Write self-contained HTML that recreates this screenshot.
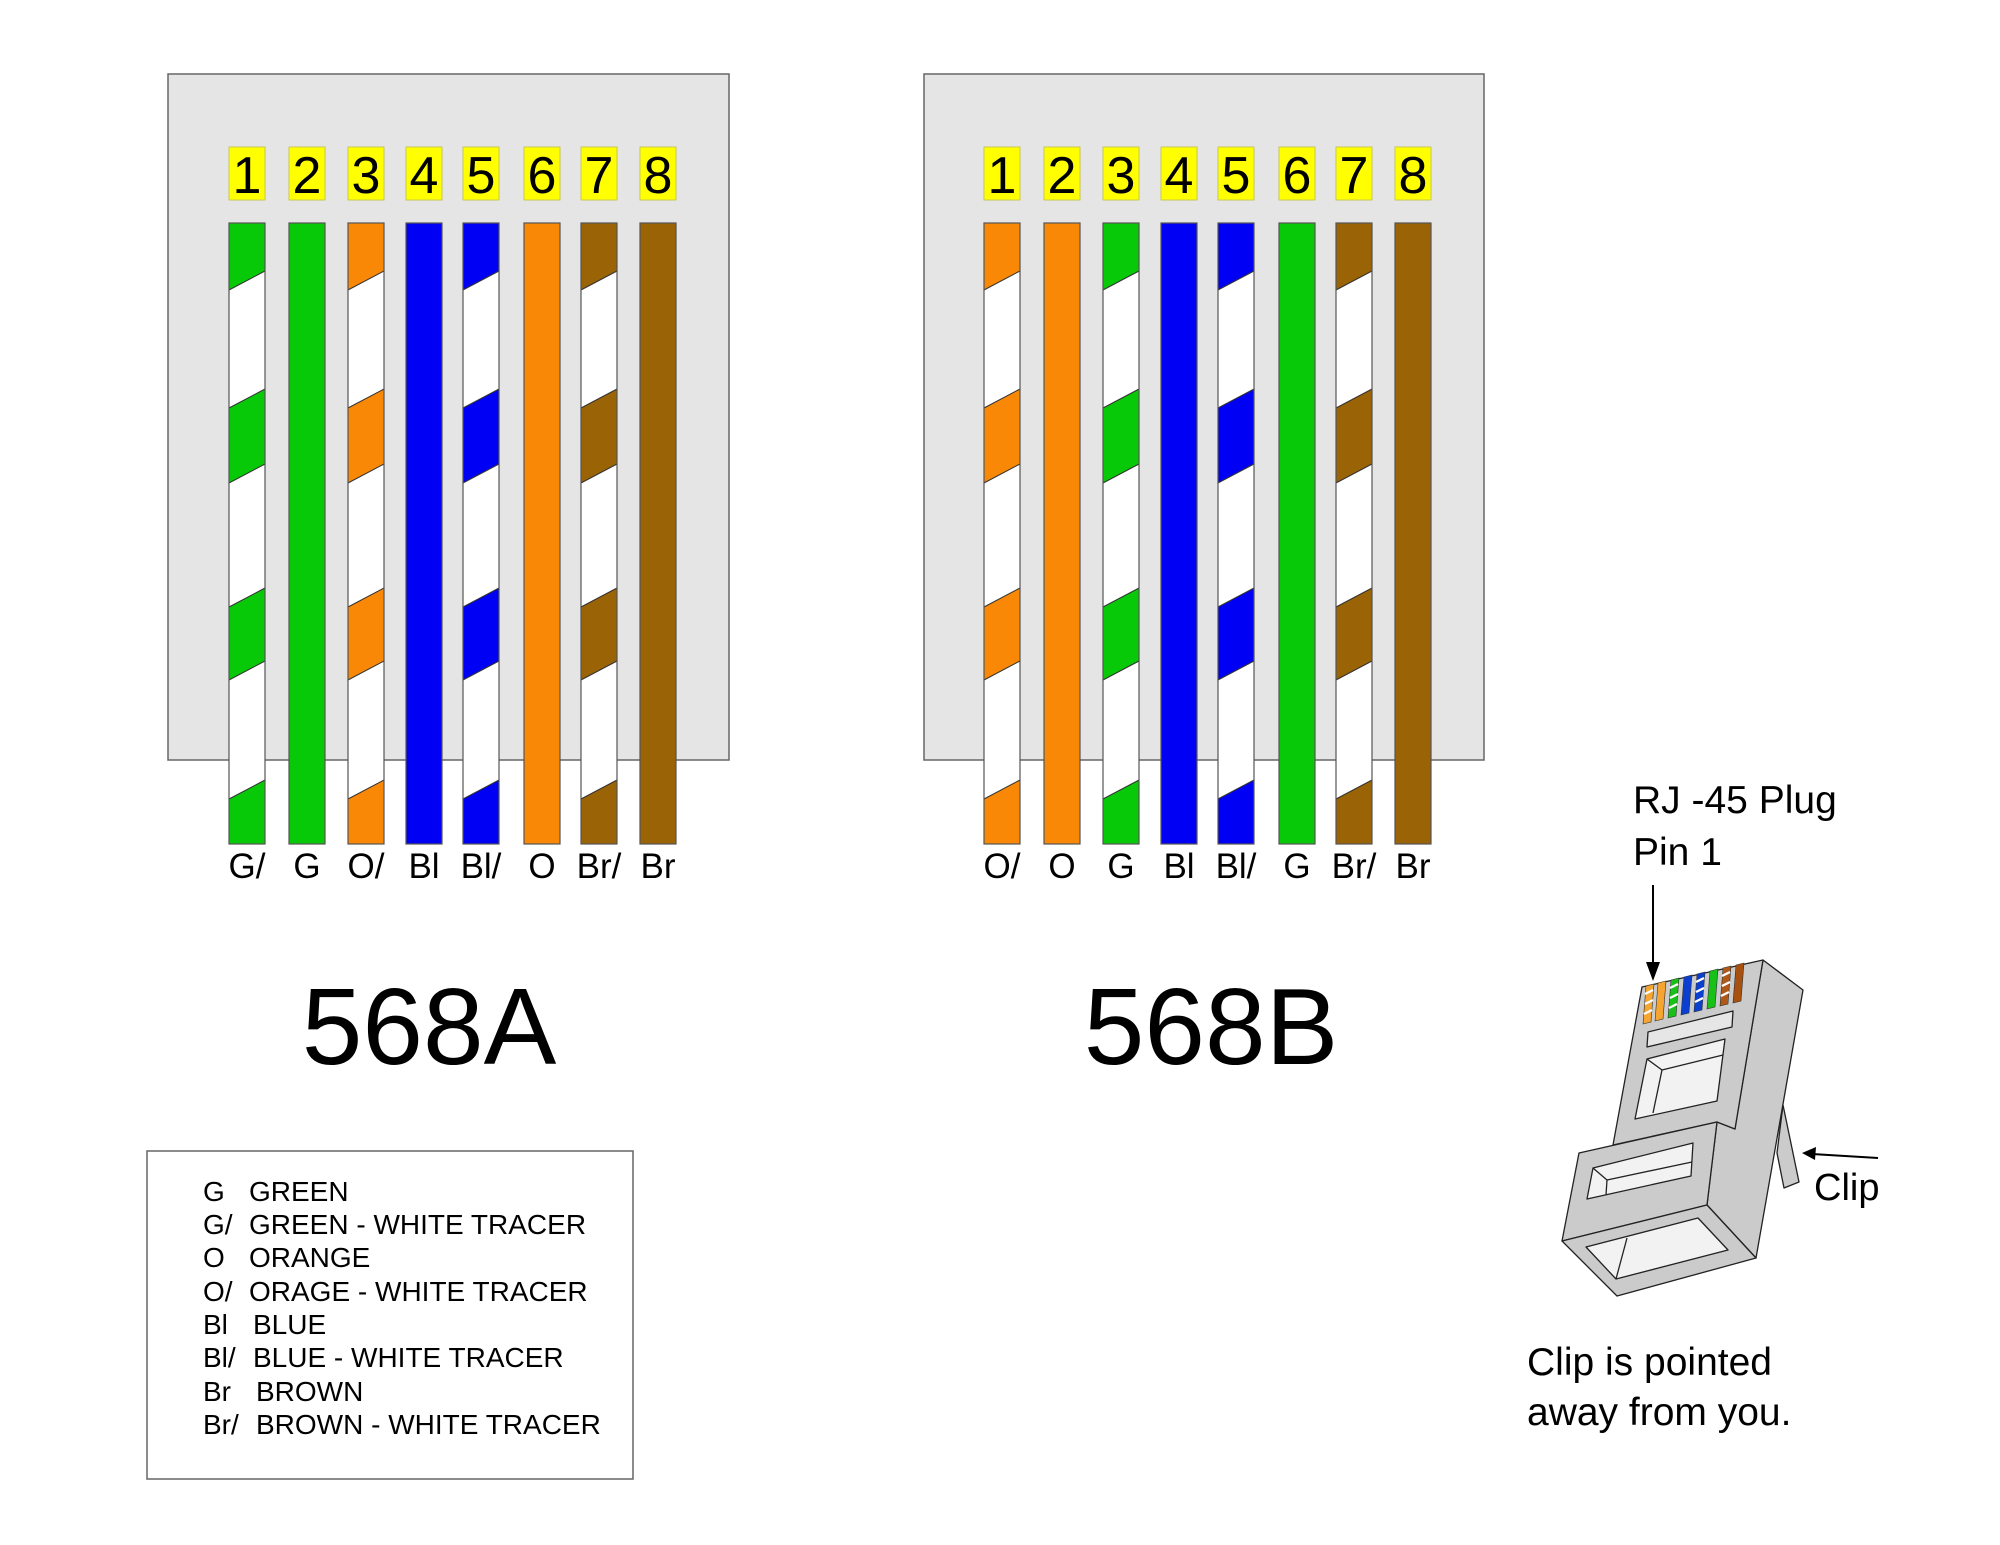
<!DOCTYPE html>
<html><head><meta charset="utf-8"><style>
html,body{margin:0;padding:0;background:#fff;}
svg{display:block;}
text{font-family:"Liberation Sans",Arial,sans-serif;fill:#000;}
</style></head><body>
<svg width="2000" height="1545" viewBox="0 0 2000 1545" xmlns="http://www.w3.org/2000/svg">

<rect x="168" y="74" width="561" height="686" fill="#e5e5e5" stroke="#666" stroke-width="1.5"/>
<rect x="924" y="74" width="560" height="686" fill="#e5e5e5" stroke="#666" stroke-width="1.5"/>

<g id="wiresA"></g>
<g id="wiresB"></g>

<rect x="147" y="1151" width="486" height="328" fill="#fff" stroke="#666" stroke-width="1.5"/>
<g font-size="28">
<text x="203" y="1201">G</text><text x="249" y="1201">GREEN</text>
<text x="203" y="1234">G/</text><text x="249" y="1234">GREEN - WHITE TRACER</text>
<text x="203" y="1267">O</text><text x="249" y="1267">ORANGE</text>
<text x="203" y="1301">O/</text><text x="249" y="1301">ORAGE - WHITE TRACER</text>
<text x="203" y="1334">Bl</text><text x="253" y="1334">BLUE</text>
<text x="203" y="1367">Bl/</text><text x="253" y="1367">BLUE - WHITE TRACER</text>
<text x="203" y="1401">Br</text><text x="256" y="1401">BROWN</text>
<text x="203" y="1434">Br/</text><text x="256" y="1434">BROWN - WHITE TRACER</text>
</g>

<text x="429" y="1064" font-size="109" text-anchor="middle">568A</text>
<text x="1211" y="1064" font-size="109" text-anchor="middle">568B</text>

<text x="1633" y="813" font-size="39">RJ -45 Plug</text>
<text x="1633" y="865" font-size="39">Pin 1</text>
<text x="1814" y="1200" font-size="38">Clip</text>
<text x="1527" y="1375" font-size="39">Clip is pointed</text>
<text x="1527" y="1425" font-size="39">away from you.</text>

<g stroke="#222" stroke-width="1.3" stroke-linejoin="round">
  <polygon points="1763,960 1803,990 1756,1258 1707,1205 1717,1122 1735,1129" fill="#cbcbcb"/>
  <polygon points="1783,1105 1799,1182 1784,1188 1777,1153" fill="#cbcbcb"/>
  <polygon points="1642,987 1763,960 1735,1129 1717,1122 1613,1145" fill="#cbcbcb"/>
  <polygon points="1648,1032 1733,1011 1732,1027 1647,1047" fill="#e6e6e6"/>
  <polygon points="1647,1059 1725,1039 1717,1101 1635,1119" fill="#f2f2f2"/>
  <polyline points="1647,1059 1662,1070 1723,1055" fill="none"/>
  <line x1="1662" y1="1070" x2="1653" y2="1113"/>
  <polygon points="1579,1153 1717,1122 1707,1205 1562,1241" fill="#cbcbcb"/>
  <polygon points="1593,1168 1693,1143 1691,1176 1587,1199" fill="#f2f2f2"/>
  <polyline points="1593,1168 1607,1180 1692,1162" fill="none"/>
  <line x1="1607" y1="1180" x2="1606" y2="1195"/>
  <polygon points="1562,1241 1707,1205 1756,1258 1617,1296" fill="#cbcbcb"/>
  <polygon points="1586,1247 1698,1218 1728,1250 1616,1279" fill="#f2f2f2"/>
  <line x1="1627" y1="1238" x2="1616" y2="1279"/>
</g>
<g stroke="#333" stroke-width="0.6">
  <polygon points="1646,986 1654,984 1651,1022 1643,1024" fill="#f5a530"/>
  <polygon points="1658,983 1666,981 1663,1019 1655,1021" fill="#f5a530"/>
  <polygon points="1671,980 1679,978 1676,1016 1668,1018" fill="#18c018"/>
  <polygon points="1684,977 1692,975 1689,1013 1681,1015" fill="#0a3fd0"/>
  <polygon points="1697,974 1705,972 1702,1010 1694,1012" fill="#0a3fd0"/>
  <polygon points="1710,971 1718,969 1715,1007 1707,1009" fill="#18c018"/>
  <polygon points="1723,968 1731,966 1728,1004 1720,1006" fill="#b05818"/>
  <polygon points="1736,965 1744,963 1741,1001 1733,1003" fill="#a85010"/>
</g>
<g stroke="#fff" stroke-width="2.2">
  <line x1="1645" y1="994" x2="1653" y2="990"/><line x1="1645" y1="1004" x2="1653" y2="1000"/><line x1="1644" y1="1014" x2="1652" y2="1010"/>
  <line x1="1670" y1="988" x2="1678" y2="984"/><line x1="1670" y1="998" x2="1678" y2="994"/><line x1="1669" y1="1008" x2="1677" y2="1004"/>
  <line x1="1696" y1="982" x2="1704" y2="978"/><line x1="1696" y1="992" x2="1704" y2="988"/><line x1="1695" y1="1002" x2="1703" y2="998"/>
  <line x1="1722" y1="976" x2="1730" y2="972"/><line x1="1722" y1="986" x2="1730" y2="982"/><line x1="1721" y1="996" x2="1729" y2="992"/>
</g>
<line x1="1653" y1="885" x2="1653" y2="965" stroke="#000" stroke-width="2"/>
<polygon points="1646,962 1660,962 1653,981" fill="#000"/>
<line x1="1878" y1="1158" x2="1812" y2="1154" stroke="#000" stroke-width="2"/>
<polygon points="1802,1153 1816,1147 1815,1160" fill="#000"/>

<script>
(function(){
var ns="http://www.w3.org/2000/svg";
var C={G:"#08c908",O:"#f88806",B:"#0000f5",R:"#996306"};
var xs=[229,289,348,406,463,524,581,640];
var W=36, top=223, bot=844, d=19;
var segs=[[top,290],[408,483],[607,680],[799,bot]];
function el(t,a,p){var e=document.createElementNS(ns,t);for(var k in a)e.setAttribute(k,a[k]);p.appendChild(e);return e;}
function draw(g,off,spec,labels){
  for(var i=0;i<8;i++){
    var x=xs[i]+off, s=spec[i], col=C[s[0]], striped=s.length>1;
    el("rect",{x:x,y:top,width:W,height:bot-top,fill:striped?"#fff":col},g);
    if(striped){
      segs.forEach(function(sg){
        var a=sg[0],b=sg[1];
        var ta=(a===top)?[a,a]:[a,a-d];
        var tb=(b===bot)?[b,b]:[b,b-d];
        var pts=[x+","+ta[0],(x+W)+","+ta[1],(x+W)+","+tb[1],x+","+tb[0]].join(" ");
        el("polygon",{points:pts,fill:col,stroke:"none"},g);
        if(a!==top)el("line",{x1:x,y1:a,x2:x+W,y2:a-d,stroke:"#333","stroke-width":1},g);
        if(b!==bot)el("line",{x1:x,y1:b,x2:x+W,y2:b-d,stroke:"#333","stroke-width":1},g);
      });
    }
    el("rect",{x:x,y:top,width:W,height:bot-top,fill:"none",stroke:"#555","stroke-width":1.2},g);
    el("rect",{x:x,y:147,width:W,height:53,fill:"#ffff00",stroke:"#c8c850","stroke-width":1},g);
    var t=el("text",{x:x+W/2,y:193,"font-size":52,"text-anchor":"middle"},g);t.textContent=String(i+1);
    var l=el("text",{x:x+W/2,y:878,"font-size":35,"text-anchor":"middle"},g);l.textContent=labels[i];
  }
}
draw(document.getElementById("wiresA"),0,["G/","G","O/","B","B/","O","R/","R"],["G/","G","O/","Bl","Bl/","O","Br/","Br"]);
draw(document.getElementById("wiresB"),755,["O/","O","G/","B","B/","G","R/","R"],["O/","O","G","Bl","Bl/","G","Br/","Br"]);
})();
</script>
</svg>
</body></html>
